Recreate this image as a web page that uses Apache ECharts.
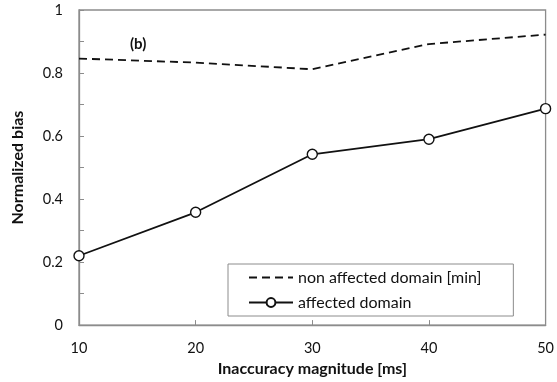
<!DOCTYPE html>
<html>
<head>
<meta charset="utf-8">
<script src="https://cdn.jsdelivr.net/npm/echarts@6/dist/echarts.min.js"></script>
<style>
  html, body { margin: 0; padding: 0; background: #fff; }
  #chart { width: 557px; height: 382px; }
</style>
</head>
<body>
<div id="chart"></div>
<script>
// Inaccuracy magnitude (ms) on the horizontal axis
const magnitudes = [10, 20, 30, 40, 50];
// Normalized bias of the non affected domain (minimum)
const nonAffected = [0.846, 0.833, 0.812, 0.892, 0.922];
// Normalized bias of the affected domain
const affected = [0.220, 0.358, 0.542, 0.590, 0.687];

const FONT = 'Lato, "Liberation Sans", sans-serif';
const AXIS_GRAY = '#8c8c8c';
const TRANSPARENT = 'rgba(0,0,0,0)';

const chart = echarts.init(document.getElementById('chart'), null, { renderer: 'canvas' });

chart.setOption({
  animation: false,
  backgroundColor: '#fff',
  textStyle: { fontFamily: FONT },
  grid: {
    left: 79, right: 11, top: 10, bottom: 56,
    show: true, borderColor: AXIS_GRAY, borderWidth: 1.3
  },
  legend: {
    orient: 'vertical',
    left: 228, top: 264,
    padding: [5, 32, 5, 20],
    itemWidth: 44, itemHeight: 11, itemGap: 8,
    borderColor: AXIS_GRAY, borderWidth: 1,
    backgroundColor: '#fff',
    textStyle: { fontFamily: FONT, fontSize: 16, color: '#111', lineHeight: 17 },
    data: [
      // dashed entry: line only, the marker is hidden
      {
        name: 'non affected domain [min]',
        itemStyle: { color: TRANSPARENT, borderColor: TRANSPARENT, borderWidth: 0, opacity: 0 }
      },
      { name: 'affected domain' }
    ]
  },
  xAxis: {
    type: 'value',
    min: 10, max: 50, interval: 10,
    name: 'Inaccuracy magnitude [ms]',
    nameLocation: 'middle', nameGap: 31,
    nameTextStyle: { fontFamily: FONT, fontWeight: 'bold', fontSize: 16, color: '#111' },
    axisLine: { show: true, lineStyle: { color: AXIS_GRAY, width: 1.3 } },
    axisTick: { show: true, inside: true, length: 5, lineStyle: { color: AXIS_GRAY } },
    axisLabel: { fontFamily: FONT, fontSize: 14.5, color: '#111', margin: 16 },
    splitLine: { show: false }
  },
  yAxis: {
    type: 'value',
    min: 0, max: 1, interval: 0.2,
    name: 'Normalized bias',
    nameLocation: 'middle', nameGap: 53,
    nameTextStyle: { fontFamily: FONT, fontWeight: 'bold', fontSize: 16, color: '#111' },
    axisLine: { show: true, lineStyle: { color: AXIS_GRAY, width: 1.3 } },
    axisTick: { show: true, inside: true, length: 5, lineStyle: { color: AXIS_GRAY } },
    minorTick: { show: true, splitNumber: 2, length: 5, lineStyle: { color: AXIS_GRAY } },
    axisLabel: { fontFamily: FONT, fontSize: 14.5, color: '#111', margin: 16 },
    splitLine: { show: false }
  },
  graphic: [{
    type: 'text',
    left: 130, top: 37,
    style: { text: '(b)', font: 'bold 15px ' + FONT, fill: '#111' }
  }],
  series: [
    {
      name: 'non affected domain [min]',
      type: 'line',
      data: magnitudes.map((m, i) => [m, nonAffected[i]]),
      showSymbol: false,
      symbol: 'none',
      lineStyle: { color: '#111', width: 1.8, type: [8, 5] },
      itemStyle: { color: '#111' }
    },
    {
      name: 'affected domain',
      type: 'line',
      data: magnitudes.map((m, i) => [m, affected[i]]),
      symbol: 'circle',
      symbolSize: 10,
      lineStyle: { color: '#111', width: 1.8 },
      itemStyle: { color: '#fff', borderColor: '#111', borderWidth: 1.4 }
    }
  ]
});
</script>
</body>
</html>
